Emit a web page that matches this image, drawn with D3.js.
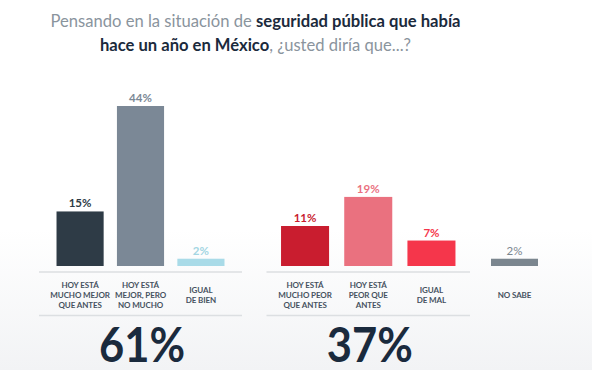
<!DOCTYPE html>
<html><head><meta charset="utf-8">
<script src="https://cdn.jsdelivr.net/npm/d3@7"></script>
<style>html,body{margin:0;padding:0;background:#fff}svg{display:block}</style>
</head><body>
<script>
// ---- data ----
const groups = ["mejor", "peor", "nosabe"];
const categories = [
  "HOY ESTÁ|MUCHO MEJOR|QUE ANTES", "HOY ESTÁ|MEJOR, PERO|NO MUCHO", "IGUAL|DE BIEN",
  "HOY ESTÁ|MUCHO PEOR|QUE ANTES", "HOY ESTÁ|PEOR QUE|ANTES", "IGUAL|DE MAL",
  "NO SABE"
];
const categoryGroup = ["mejor","mejor","mejor","peor","peor","peor","nosabe"];
const values = [15, 44, 2, 11, 19, 7, 2];
const valueLabels = ["15%","44%","2%","11%","19%","7%","2%"];
const totalGroups = ["mejor","peor"];

// ---- styles ----
const barColors = ["#2e3b46","#7b8896","#a9dbe8","#c91d2f","#ea717f","#f5364b","#7b868f"];
const labelColors = ["#2e3b46","#7b8896","#a3d6e3","#c91d2f","#ea717f","#f5364b","#7b868f"];
const labelWeights = [700,700,700,700,700,700,400];
const groupRange = {mejor:[39,242], peor:[266.5,470], nosabe:[480,549]};
const groupPad = {mejor:[0.22,0.29], peor:[0.24,0.23], nosabe:[0,0.234]};
const W = 592, H = 370;

const svg = d3.select("body").append("svg").attr("width", W).attr("height", H);
const defs = svg.append("defs");
const grad = defs.append("linearGradient").attr("id","bg").attr("x1",0).attr("y1",0).attr("x2",0).attr("y2",1);
grad.append("stop").attr("offset","0%").attr("stop-color","#ffffff");
grad.append("stop").attr("offset","62%").attr("stop-color","#ffffff");
grad.append("stop").attr("offset","100%").attr("stop-color","#f2f3f5");
svg.append("rect").attr("width",W).attr("height",H).attr("fill","url(#bg)");

// title
const tFont = "Lato, 'Open Sans', sans-serif";
const l1 = svg.append("text").attr("text-anchor","middle").attr("x",255.5).attr("y",27)
  .style("font-family",tFont).style("font-size","16.6px");
l1.append("tspan").attr("fill","#8a949d").text("Pensando en la situación de ");
l1.append("tspan").attr("fill","#1b2a3c").attr("font-weight",700).text("seguridad pública que había");
const l2 = svg.append("text").attr("text-anchor","middle").attr("x",255.5).attr("y",51)
  .style("font-family",tFont).style("font-size","16.6px");
l2.append("tspan").attr("fill","#1b2a3c").attr("font-weight",700).text("hace un año en México");
l2.append("tspan").attr("fill","#8a949d").text(", ¿usted diría que...?");

// scales
const y = d3.scaleLinear().domain([0, d3.max(values)]).range([266, 106]);
const xScales = {};
groups.forEach(g => {
  const dom = categories.filter((c,i) => categoryGroup[i] === g);
  xScales[g] = d3.scaleBand().domain(dom).range(groupRange[g])
    .paddingInner(groupPad[g][0]).paddingOuter(groupPad[g][1]);
});
const xOf = i => xScales[categoryGroup[i]](categories[i]);
const bw = i => xScales[categoryGroup[i]].bandwidth();

const idx = d3.range(values.length);

// bars
svg.append("g").selectAll("rect").data(idx).join("rect")
  .attr("x", i => xOf(i)).attr("width", i => bw(i))
  .attr("y", i => y(values[i])).attr("height", i => y(0) - y(values[i]))
  .attr("fill", i => barColors[i]);

// value labels
svg.append("g").selectAll("text").data(idx).join("text")
  .attr("x", i => xOf(i) + bw(i)/2).attr("y", i => y(values[i]) - 4)
  .attr("text-anchor","middle")
  .style("font-family","Lato, sans-serif").style("font-size","11.5px")
  .attr("font-weight", i => labelWeights[i])
  .attr("fill", i => labelColors[i]).text(i => valueLabels[i]);

// separator lines
totalGroups.forEach(g => {
  const r = groupRange[g];
  [272, 315.5].forEach(yy => {
    svg.append("line").attr("x1", r[0]).attr("x2", r[1]).attr("y1", yy).attr("y2", yy)
      .attr("stroke","#dcdfe2").attr("stroke-width",1.3);
  });
});

// category labels
const lh = 9.7;
idx.forEach(i => {
  const lines = categories[i].split("|");
  const cx = xOf(i) + bw(i)/2;
  const t = svg.append("text").attr("text-anchor","middle")
    .style("font-family","Lato, sans-serif").style("font-size","8px").attr("font-weight",700)
    .style("letter-spacing","-0.1px")
    .attr("fill","#46525f");
  lines.forEach((ln, k) => {
    t.append("tspan").attr("x", cx).attr("y", 298 + (k - (lines.length-1)/2) * lh).text(ln);
  });
});

// totals
totalGroups.forEach(g => {
  const tot = d3.sum(values.filter((v,i) => categoryGroup[i] === g));
  const r = groupRange[g];
  svg.append("text").attr("x", (r[0]+r[1])/2 + 1.5).attr("y", 361.5).attr("text-anchor","middle")
    .style("font-family","Lato, sans-serif").style("font-size","48px").attr("font-weight",700)
    .attr("fill","#1a2a3d").attr("textLength",86).attr("lengthAdjust","spacingAndGlyphs")
    .text(tot + "%");
});
</script>
</body></html>
